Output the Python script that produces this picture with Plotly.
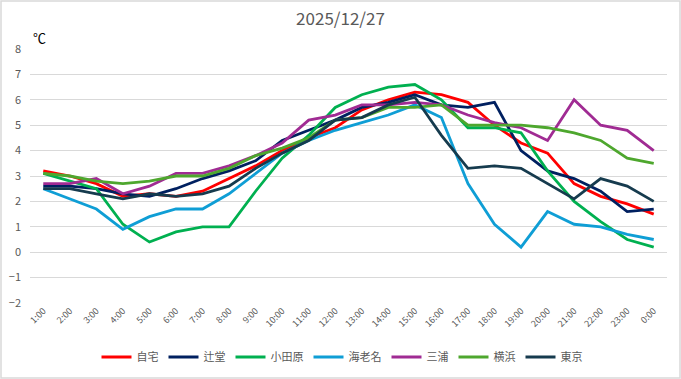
import plotly.graph_objects as go

hours = ["1:00", "2:00", "3:00", "4:00", "5:00", "6:00", "7:00", "8:00", "9:00", "10:00",
         "11:00", "12:00", "13:00", "14:00", "15:00", "16:00", "17:00", "18:00", "19:00",
         "20:00", "21:00", "22:00", "23:00", "0:00"]

jitaku = [3.2, 3.0, 2.7, 2.2, 2.3, 2.2, 2.4, 2.9, 3.4, 4.0, 4.5, 4.9, 5.6, 6.0, 6.3, 6.2, 5.9, 5.0, 4.3, 3.9, 2.7, 2.2, 1.9, 1.5]
tsujido = [2.6, 2.6, 2.5, 2.3, 2.2, 2.5, 2.9, 3.2, 3.6, 4.4, 4.8, 5.2, 5.7, 5.9, 6.2, 5.8, 5.7, 5.9, 4.0, 3.2, 2.9, 2.4, 1.6, 1.7]
odawara = [3.1, 2.8, 2.5, 1.1, 0.4, 0.8, 1.0, 1.0, 2.4, 3.7, 4.6, 5.7, 6.2, 6.5, 6.6, 6.0, 4.9, 4.9, 4.7, 3.2, 2.0, 1.2, 0.5, 0.2]
ebina = [2.5, 2.1, 1.7, 0.9, 1.4, 1.7, 1.7, 2.3, 3.1, 3.9, 4.4, 4.8, 5.1, 5.4, 5.8, 5.3, 2.7, 1.1, 0.2, 1.6, 1.1, 1.0, 0.7, 0.5]
miura = [2.7, 2.7, 2.9, 2.3, 2.6, 3.1, 3.1, 3.4, 3.8, 4.3, 5.2, 5.4, 5.8, 5.8, 5.9, 5.8, 5.4, 5.1, 4.9, 4.4, 6.0, 5.0, 4.8, 4.0]
yokohama = [3.1, 3.0, 2.8, 2.7, 2.8, 3.0, 3.0, 3.3, 3.8, 4.1, 4.5, 5.2, 5.3, 5.7, 5.7, 5.8, 5.0, 5.0, 5.0, 4.9, 4.7, 4.4, 3.7, 3.5]
tokyo = [2.5, 2.5, 2.3, 2.1, 2.3, 2.2, 2.3, 2.6, 3.3, 3.9, 4.4, 5.2, 5.3, 5.8, 6.1, 4.6, 3.3, 3.4, 3.3, 2.7, 2.1, 2.9, 2.6, 2.0]

names = ["自宅", "辻堂", "小田原", "海老名", "三浦", "横浜", "東京"]
colors = ["#FF0000", "#002060", "#00B050", "#0F9ED5", "#A02B93", "#4EA72E", "#163B4E"]
series = [jitaku, tsujido, odawara, ebina, miura, yokohama, tokyo]

FONT = "Noto Sans CJK JP, Noto Sans, sans-serif"

fig = go.Figure()
for n, c, s in zip(names, colors, series):
    fig.add_trace(go.Scatter(x=hours, y=s, name=n, mode="lines",
                             line=dict(color=c, width=2.8)))

W, H = 681, 379
ml, mr, mt, mb = 30, 14, 49, 76
pw, ph = W - ml - mr, H - mt - mb

fig.update_layout(
    width=W, height=H,
    margin=dict(l=ml, r=mr, t=mt, b=mb, autoexpand=False),
    paper_bgcolor="white", plot_bgcolor="white",
    font=dict(family=FONT, color="#595959", size=10),
    title=dict(text="2025/12/27", x=0.5, xref="container", xanchor="center",
               y=1 - 19 / H, yanchor="middle",
               font=dict(size=17, color="#595959", family=FONT)),
    xaxis=dict(type="category", range=[-0.5, len(hours) - 0.5], tickangle=-45,
               showgrid=False, zeroline=False, automargin=False,
               showline=False, ticks="", tickfont=dict(size=9, color="#595959")),
    yaxis=dict(range=[-2, 8], dtick=1, showgrid=True, gridcolor="#D9D9D9",
               gridwidth=1, zeroline=False, showline=False, ticks="", automargin=False,
               ticklabelstandoff=8,
               tickfont=dict(size=11, color="#595959")),
    showlegend=True,
    legend=dict(orientation="h", x=(342 - ml) / pw, xanchor="center",
                y=-(357 - (mt + ph)) / ph,
                yanchor="middle", font=dict(size=11, color="#595959"),
                tracegroupgap=0),
    annotations=[dict(text="℃", xref="paper", yref="paper",
                      x=(31 - ml) / pw, y=1 + (mt - 37) / ph, xanchor="left",
                      yanchor="middle", showarrow=False,
                      font=dict(size=13, color="#000000", family=FONT))],
    shapes=[dict(type="rect", xref="paper", yref="paper",
                 x0=-(ml - 1) / pw, x1=1 + (mr - 1) / pw,
                 y0=-(mb - 1) / ph, y1=1 + (mt - 1) / ph,
                 line=dict(color="#D9D9D9", width=1.5), layer="below")],
)

fig.write_html("out.html", config={"displayModeBar": False},
               post_script="document.body.style.margin='0';document.body.style.padding='0';")
